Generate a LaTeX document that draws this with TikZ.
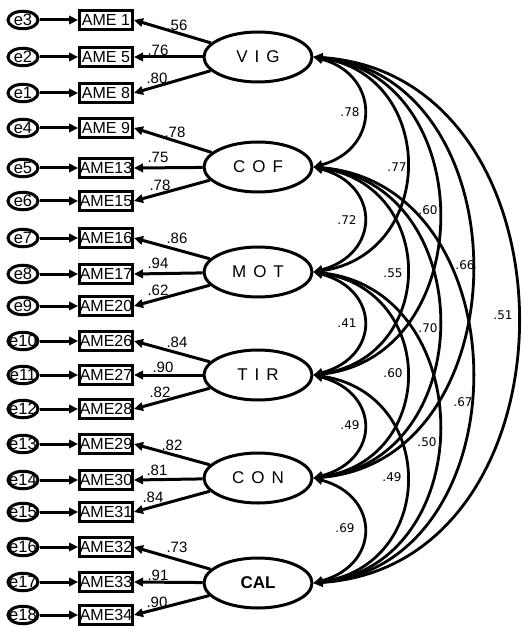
\documentclass[tikz,border=0pt]{standalone}
\usepackage{fontspec}
\setmainfont{Liberation Sans}
\newfontfamily\covfont{DejaVu Sans}
\usetikzlibrary{shapes.geometric,arrows.meta}
\begin{document}
\begin{tikzpicture}[x=1pt,y=-1pt,
 obs/.style={draw,line width=3pt,minimum width=53pt,minimum height=18.5pt,inner sep=0pt,font=\fontsize{16}{16}\selectfont},
 err/.style={draw,ellipse,line width=3pt,minimum width=30pt,minimum height=17.5pt,inner sep=0pt},
 errtext/.style={font=\fontsize{16.5}{16}\selectfont,inner sep=0pt},
 lat/.style={draw,ellipse,line width=3pt,minimum width=108pt,minimum height=50pt,inner sep=0pt,font=\fontsize{17}{17}\selectfont},
 arr/.style={line width=3pt,-{Triangle[length=9pt,width=8.5pt]}},
 cov/.style={line width=2.8pt,{Triangle[length=9pt,width=8.5pt]}-{Triangle[length=9pt,width=8.5pt]}},
 ll/.style={font=\fontsize{15}{15}\selectfont,inner sep=0pt},
 cl/.style={font=\covfont\fontsize{12}{12}\selectfont,inner sep=0pt}]
\useasboundingbox (0,0) rectangle (529,636);

% observed variables and errors
\foreach \n/\y/\t/\e in {1/20/AME 1/e3, 5/57/AME 5/e2, 8/93/AME 8/e1,
  9/128/AME 9/e4, 13/168/AME13/e5, 15/201/AME15/e6,
  16/238/AME16/e7, 17/274/AME17/e8, 20/306/AME20/e9,
  26/341/AME26/e10, 27/375/AME27/e11, 28/409/AME28/e12,
  29/444/AME29/e13, 30/480/AME30/e14, 31/512/AME31/e15,
  32/547/AME32/e16, 33/582/AME33/e17, 34/615/AME34/e18}{
  \node[obs] (A\n) at (106,\y) {\t};
  \node[err, label={[errtext]center:\e}] (\e) at (23,\y) {};
  \draw[arr] (\e) -- (A\n);
}

% latent variables
\node[lat] (VIG) at (258,57) {\spaceskip=7pt V I G};
\node[lat] (COF) at (258,167) {\spaceskip=7pt C O F};
\node[lat] (MOT) at (258,272) {\spaceskip=7pt M O T};
\node[lat] (TIR) at (258,375) {\spaceskip=7pt T I R};
\node[lat] (CON) at (258,478) {\spaceskip=7pt C O N};
\node[lat] (CAL) at (258,583) {\bfseries CAL};

% loadings
\foreach \L/\a/\b/\c in {VIG/1/5/8, COF/9/13/15, MOT/16/17/20, TIR/26/27/28, CON/29/30/31, CAL/32/33/34}{
  \draw[arr] (\L) -- (A\a.east);
  \draw[arr] (\L) -- (A\b.east);
  \draw[arr] (\L) -- (A\c.east);
}

% loading labels
\node[ll] (l1) at (177,25) {.56};
\node[ll] (l5) at (158,50) {.76};
\node[ll] (l8) at (157,78) {.80};
\node[ll] (l9) at (175,132) {.78};
\node[ll] (l13) at (158,157) {.75};
\node[ll] (l15) at (160,185) {.78};
\node[ll] (l16) at (177,238) {.86};
\node[ll] (l17) at (158,263) {.94};
\node[ll] (l20) at (158,290) {.62};
\node[ll] (l26) at (177,342) {.84};
\node[ll] (l27) at (163,367) {.90};
\node[ll] (l28) at (160,392) {.82};
\node[ll] (l29) at (172,445) {.82};
\node[ll] (l30) at (157,470) {.81};
\node[ll] (l31) at (153,497) {.84};
\node[ll] (l32) at (177,547) {.73};
\node[ll] (l33) at (158,575) {.91};
\node[ll] (l34) at (157,602) {.90};

% covariances
\def\cc{18}
\foreach \p/\q in {VIG/COF, COF/MOT, MOT/TIR, TIR/CON, CON/CAL}{
  \draw[cov] (\p.east) .. controls +(67,\cc) and +(67,-\cc) .. (\q.east);}
\foreach \p/\q in {VIG/MOT, COF/TIR, MOT/CON, TIR/CAL}{
  \draw[cov] (\p.east) .. controls +(124,\cc) and +(124,-\cc) .. (\q.east);}
\foreach \p/\q in {VIG/TIR, COF/CON, MOT/CAL}{
  \draw[cov] (\p.east) .. controls +(167,\cc) and +(167,-\cc) .. (\q.east);}
\foreach \p/\q in {VIG/CON, COF/CAL}{
  \draw[cov] (\p.east) .. controls +(211,\cc) and +(211,-\cc) .. (\q.east);}
\draw[cov] (VIG.east) .. controls +(272,\cc) and +(272,-\cc) .. (CAL.east);

% covariance labels
\node[cl] (c1) at (350,112) {.78};
\node[cl] (c2) at (397,167) {.77};
\node[cl] (c3) at (428,210) {.60};
\node[cl] (c4) at (347,220) {.72};
\node[cl] (c5) at (465,265) {.66};
\node[cl] (c6) at (393,273) {.55};
\node[cl] (c7) at (347,323) {.41};
\node[cl] (c8) at (428,328) {.70};
\node[cl] (c9) at (503,315) {.51};
\node[cl] (c10) at (393,373) {.60};
\node[cl] (c11) at (463,402) {.67};
\node[cl] (c12) at (350,425) {.49};
\node[cl] (c13) at (427,442) {.50};
\node[cl] (c14) at (392,477) {.49};
\node[cl] (c15) at (345,528) {.69};
\end{tikzpicture}
\end{document}
